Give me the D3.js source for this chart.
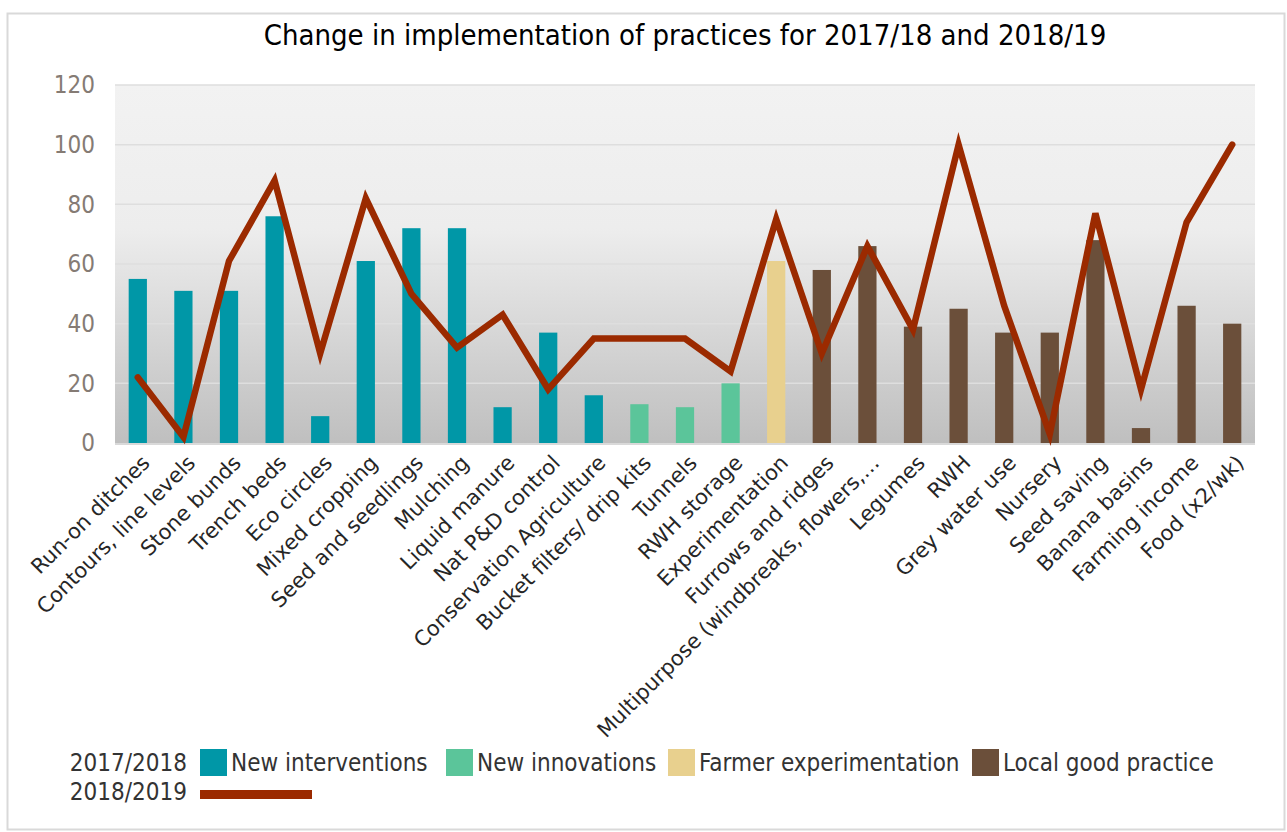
<!DOCTYPE html>
<html>
<head>
<meta charset="utf-8">
<script src="https://cdn.jsdelivr.net/npm/d3@7"></script>
<style>
  body { margin: 0; background: #fff; }
  svg { display: block; }
</style>
</head>
<body>
<div id="chart"></div>
<script>
const categories = [
  "Run-on ditches", "Contours, line levels", "Stone bunds", "Trench beds", "Eco circles",
  "Mixed cropping", "Seed and seedlings", "Mulching", "Liquid manure", "Nat P&D control",
  "Conservation Agriculture", "Bucket filters/ drip kits", "Tunnels", "RWH storage",
  "Experimentation", "Furrows and ridges", "Multipurpose (windbreaks, flowers,\u2026",
  "Legumes", "RWH", "Grey water use", "Nursery", "Seed saving", "Banana basins",
  "Farming income", "Food (x2/wk)"
];
const groups = [
  "int", "int", "int", "int", "int", "int", "int", "int", "int", "int", "int",
  "inn", "inn", "inn", "exp",
  "loc", "loc", "loc", "loc", "loc", "loc", "loc", "loc", "loc", "loc"
];
const values2017 = [55, 51, 51, 76, 9, 61, 72, 72, 12, 37, 16, 13, 12, 20, 61, 58, 66, 39, 45, 37, 37, 68, 5, 46, 40];
const values2018 = [22, 2, 61, 88, 30, 82, 50, 32, 43, 18, 35, 35, 35, 24, 75, 30, 66, 38, 100, 46, 3, 77, 18, 74, 100];
const yTicks = [0, 20, 40, 60, 80, 100, 120];
const legendGroups = [
  { k: "int", l: "New interventions" },
  { k: "inn", l: "New innovations" },
  { k: "exp", l: "Farmer experimentation" },
  { k: "loc", l: "Local good practice" }
];

const colors = { int: "#0097a7", inn: "#5bc59a", exp: "#e8d08e", loc: "#6b4f3a" };
const lineColor = "#9b2a00";

const width = 1287, height = 832;
const m = { t: 85, r: 32, b: 389, l: 115 };
const condensed = "'DejaVu Sans Condensed', 'DejaVu Sans', sans-serif";

const svg = d3.select("#chart").append("svg")
  .attr("width", width)
  .attr("height", height);

// frame
svg.append("rect")
  .attr("x", 7.5).attr("y", 13.5)
  .attr("width", 1277).attr("height", 816)
  .attr("fill", "#fff")
  .attr("stroke", "#d9d9d9")
  .attr("stroke-width", 2);

const defs = svg.append("defs");
const grad = defs.append("linearGradient")
  .attr("id", "bg").attr("x1", 0).attr("y1", 0).attr("x2", 0).attr("y2", 1);
grad.append("stop").attr("offset", "0%").attr("stop-color", "#f2f2f2");
grad.append("stop").attr("offset", "40%").attr("stop-color", "#ededed");
grad.append("stop").attr("offset", "100%").attr("stop-color", "#bfbfbf");

const x = d3.scaleBand()
  .domain(categories)
  .range([m.l, width - m.r])
  .paddingInner(0.6)
  .paddingOuter(0.3);

const y = d3.scaleLinear()
  .domain([0, 120])
  .range([height - m.b, m.t]);

svg.append("rect")
  .attr("x", m.l).attr("y", m.t)
  .attr("width", width - m.r - m.l)
  .attr("height", height - m.b - m.t)
  .attr("fill", "url(#bg)");

// gridlines
svg.append("g")
  .selectAll("line")
  .data(yTicks.slice(1))
  .enter()
  .append("line")
  .attr("x1", m.l).attr("x2", width - m.r)
  .attr("y1", d => y(d)).attr("y2", d => y(d))
  .attr("stroke", "#dedede")
  .attr("stroke-width", 1.5);

svg.append("line")
  .attr("x1", m.l).attr("x2", width - m.r)
  .attr("y1", y(0) + 1).attr("y2", y(0) + 1)
  .attr("stroke", "#d9d9d9")
  .attr("stroke-width", 2);

// y axis labels
const yAxis = svg.append("g")
  .attr("transform", `translate(${m.l - 20},0)`)
  .call(d3.axisLeft(y).tickValues(yTicks).tickSize(0).tickPadding(0));
yAxis.select(".domain").remove();
yAxis.selectAll("text")
  .attr("fill", "#857b74")
  .attr("font-family", condensed)
  .attr("font-size", "24px");

// bars
svg.append("g")
  .selectAll("rect")
  .data(categories)
  .enter()
  .append("rect")
  .attr("x", d => x(d))
  .attr("y", (d, i) => y(values2017[i]))
  .attr("width", x.bandwidth())
  .attr("height", (d, i) => y(0) - y(values2017[i]))
  .attr("fill", (d, i) => colors[groups[i]]);

// line
const line = d3.line()
  .x((d, i) => x(categories[i]) + x.bandwidth() / 2)
  .y(d => y(d));

svg.append("path")
  .datum(values2018)
  .attr("fill", "none")
  .attr("stroke", lineColor)
  .attr("stroke-width", 6.5)
  .attr("stroke-linejoin", "miter")
  .attr("stroke-linecap", "round")
  .attr("d", line);

// x labels
const xAxis = svg.append("g")
  .attr("transform", `translate(0,${y(0)})`)
  .call(d3.axisBottom(x).tickSize(0).tickPadding(0));
xAxis.select(".domain").remove();
xAxis.selectAll("text")
  .attr("font-family", "'DejaVu Sans', sans-serif")
  .attr("font-size", "21px")
  .attr("fill", "#262626")
  .attr("text-anchor", "end")
  .attr("dy", "0.35em")
  .attr("transform", "translate(8,16) rotate(-45)");

// title
svg.append("text")
  .attr("x", 685)
  .attr("y", 45)
  .attr("text-anchor", "middle")
  .attr("font-family", condensed)
  .attr("font-size", "29px")
  .attr("fill", "#000")
  .text("Change in implementation of practices for 2017/18 and 2018/19");

// legend
const leg = svg.append("g").attr("font-family", condensed).attr("font-size", "24px").attr("fill", "#333");
leg.append("text").attr("x", 187).attr("y", 771).attr("text-anchor", "end").text("2017/2018");
leg.append("text").attr("x", 187).attr("y", 800).attr("text-anchor", "end").text("2018/2019");

const legX = [200, 446, 668, 972];
legendGroups.forEach((g, i) => {
  leg.append("rect")
    .attr("x", legX[i]).attr("y", 749)
    .attr("width", 27).attr("height", 27)
    .attr("fill", colors[g.k]);
  leg.append("text")
    .attr("x", legX[i] + 31).attr("y", 771)
    .text(g.l);
});

leg.append("rect")
  .attr("x", 200).attr("y", 790)
  .attr("width", 112).attr("height", 9)
  .attr("fill", lineColor);
</script>
</body>
</html>
